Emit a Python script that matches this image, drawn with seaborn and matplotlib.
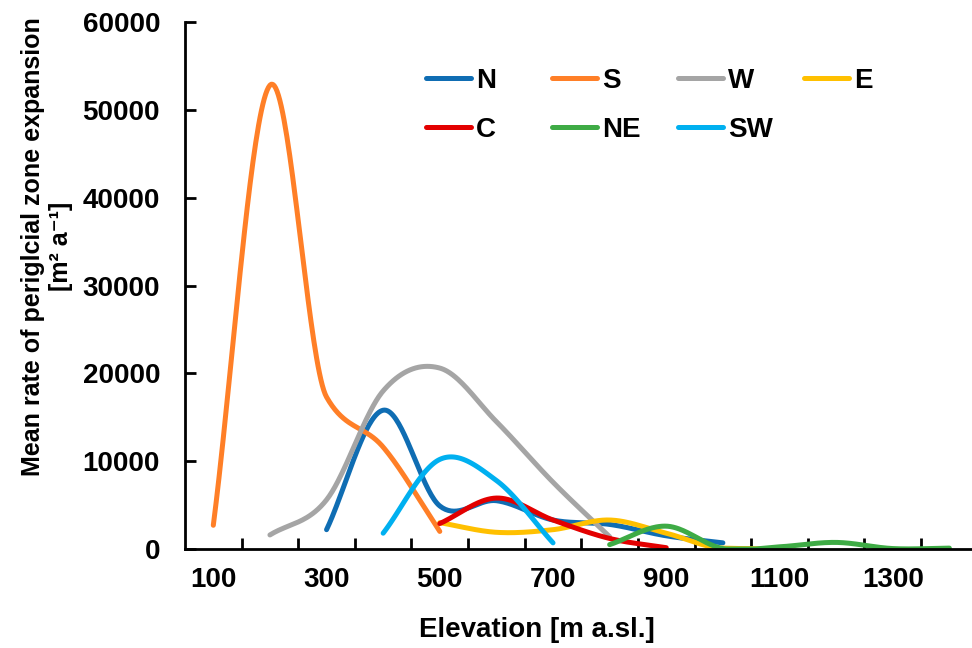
import numpy as np
import pandas as pd
import matplotlib
matplotlib.use("Agg")
import matplotlib.pyplot as plt
import seaborn as sns
from matplotlib.lines import Line2D
from matplotlib.ticker import FixedLocator

# ---------------- data ----------------
series_names = ["N", "S", "W", "E", "C", "NE", "SW"]

elev_N = [300, 400, 500, 600, 700, 800, 900, 1000]
rate_N = [2200, 15800, 4900, 5500, 3300, 2800, 1500, 700]

elev_S = [100, 200, 300, 400, 500]
rate_S = [2700, 52800, 17300, 11600, 2000]

elev_W = [200, 300, 400, 500, 600, 700, 800]
rate_W = [1600, 5600, 18000, 20600, 14500, 7600, 1400]

elev_E = [500, 600, 700, 800, 900, 1000, 1100]
rate_E = [3000, 1900, 2200, 3300, 1800, 100, 0]

elev_C = [500, 600, 700, 800, 900]
rate_C = [2900, 5800, 3300, 1200, 150]

elev_NE = [800, 900, 1000, 1100, 1200, 1300, 1400]
rate_NE = [500, 2600, 50, 250, 750, 50, 100]

elev_SW = [400, 500, 600, 700]
rate_SW = [1800, 10200, 7800, 700]

x_tick_labels = ["100", "300", "500", "700", "900", "1100", "1300"]
y_tick_values = [0, 10000, 20000, 30000, 40000, 50000, 60000]

colors = {"N": "#0F6DB3", "S": "#FF7F27", "W": "#A5A5A5", "E": "#FFC000",
          "C": "#E30000", "NE": "#3EAB45", "SW": "#00B0F0"}

series_data = {
    "N": (elev_N, rate_N), "S": (elev_S, rate_S), "W": (elev_W, rate_W),
    "E": (elev_E, rate_E), "C": (elev_C, rate_C), "NE": (elev_NE, rate_NE),
    "SW": (elev_SW, rate_SW),
}


# Smoothed line for rendering only (cubic Hermite through the data points,
# Catmull-Rom tangents, limited only where neighbouring slopes differ a lot).
def smooth(xs, ys, n=40, limit=2.0, ratio=5.0):
    x = np.asarray(xs, float)
    y = np.asarray(ys, float)
    m = len(x)
    sec = np.diff(y) / np.diff(x)
    tan = np.zeros(m)
    for i in range(m):
        if i == 0:
            tan[i] = sec[0]
        elif i == m - 1:
            tan[i] = sec[-1]
        else:
            t = (y[i + 1] - y[i - 1]) / (x[i + 1] - x[i - 1])
            a, b = sec[i - 1], sec[i]
            if a * b > 0:
                lo, hi = sorted([abs(a), abs(b)])
                if hi > ratio * lo:
                    t = np.sign(t) * min(abs(t), limit * lo)
            tan[i] = t
    xo, yo = [], []
    for i in range(m - 1):
        h = x[i + 1] - x[i]
        s = np.linspace(0, 1, n, endpoint=(i == m - 2))
        h00 = 2 * s ** 3 - 3 * s ** 2 + 1
        h10 = s ** 3 - 2 * s ** 2 + s
        h01 = -2 * s ** 3 + 3 * s ** 2
        h11 = s ** 3 - s ** 2
        xo.append(x[i] + s * h)
        yo.append(h00 * y[i] + h10 * h * tan[i] + h01 * y[i + 1] + h11 * h * tan[i + 1])
    return np.concatenate(xo), np.clip(np.concatenate(yo), 0, None)


frames = []
for name in series_names:
    xs, ys = series_data[name]
    sx, sy = smooth(xs, ys)
    frames.append(pd.DataFrame({"elev": sx, "rate": sy, "series": name}))
df = pd.concat(frames, ignore_index=True)

# ---------------- style ----------------
sns.set_style("white")
plt.rcParams["font.family"] = ["Liberation Sans", "DejaVu Sans"]
plt.rcParams["font.weight"] = "bold"
for key in ["text.color", "axes.labelcolor", "xtick.color", "ytick.color",
            "axes.edgecolor"]:
    plt.rcParams[key] = "black"

FS = 20       # horizontal texts
FS_Y = 18     # vertical axis title
LW = 3.6

fig = plt.figure(figsize=(9.72, 6.48), dpi=100)
ax = fig.add_axes([185 / 972, 99 / 648, 787 / 972, 527 / 648])

sns.lineplot(data=df, x="elev", y="rate", hue="series", hue_order=series_names,
             palette=colors, sort=False, estimator=None, linewidth=LW,
             legend=False, ax=ax, solid_capstyle="round")

ax.set_xlim(50, 1440)
ax.set_ylim(0, 60000)

ax.xaxis.set_major_locator(FixedLocator([int(v) for v in x_tick_labels]))
ax.set_xticklabels(x_tick_labels)
ax.xaxis.set_minor_locator(FixedLocator(list(range(150, 1400, 100))))
ax.tick_params(axis="x", which="major", length=0, pad=13, labelsize=FS,
               labelcolor="black")
ax.tick_params(axis="x", which="minor", length=8, width=2, direction="in",
               color="black", bottom=True)

ax.set_yticks(y_tick_values)
ax.set_yticklabels([str(v) for v in y_tick_values])
ax.tick_params(axis="y", which="major", length=8, width=2, direction="in",
               color="black", pad=18, labelsize=FS, left=True, labelcolor="black")

for lab in ax.get_xticklabels() + ax.get_yticklabels():
    lab.set_fontweight("bold")

for s in ["top", "right"]:
    ax.spines[s].set_visible(False)
for s in ["left", "bottom"]:
    ax.spines[s].set_linewidth(2)
    ax.spines[s].set_color("black")

ax.set_xlabel("")
ax.set_ylabel("")

fig.text(537 / 972, 0.028, "Elevation [m a.sl.]", ha="center", va="center",
         fontsize=FS, fontweight="bold", color="black")
fig.text(47 / 972, 0.62, "Mean rate of periglcial zone expansion\n[m² a⁻¹]",
         rotation=90, ha="center", va="center", multialignment="center",
         fontsize=FS_Y, fontweight="bold", linespacing=1.25, color="black")

# ---------------- legend (Excel-like fixed column pitch) ----------------
columns = [["N", "C"], ["S", "NE"], ["W", "SW"], ["E"]]
col_x = [0.306, 0.466, 0.626, 0.787]
legs = []
for cx, names in zip(col_x, columns):
    handles = [Line2D([0], [0], color=colors[nm], lw=LW, solid_capstyle="round")
               for nm in names]
    leg = ax.legend(handles, names, loc="upper left", bbox_to_anchor=(cx, 0.913),
                    frameon=False, handlelength=1.62, handletextpad=0.18,
                    labelspacing=0.82, borderpad=0, borderaxespad=0,
                    prop={"size": FS, "weight": "bold"}, labelcolor="black")
    legs.append(leg)
for leg in legs[:-1]:
    ax.add_artist(leg)

fig.savefig("out.png", dpi=100)
